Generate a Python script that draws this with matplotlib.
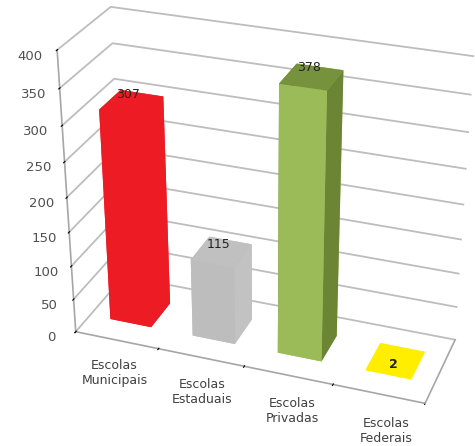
import matplotlib
matplotlib.use("Agg")
import matplotlib.pyplot as plt
import numpy as np

categories = ["Escolas\nMunicipais", "Escolas\nEstaduais", "Escolas\nPrivadas", "Escolas\nFederais"]
values = [307, 115, 378, 2]
labels = ["307", "115", "378", "2"]
z_ticks = [0, 50, 100, 150, 200, 250, 300, 350, 400]
front_colors = ["#ED1C24", "#BDBDBD", "#9BBB59", "#FFEE00"]
top_colors = ["#ED1C24", "#C0C0C0", "#76923C", "#FFEE00"]
side_colors = ["#ED1C24", "#C2C2C2", "#6B8535", "#FFEE00"]

plt.rcParams["font.family"] = ["DejaVu Sans"]
fig = plt.figure(figsize=(4.75, 4.46), dpi=100)
ax = fig.add_axes([-0.038, -0.067, 1.16, 1.2], projection="3d")
ax.set_proj_type("persp", focal_length=0.55)
ax.view_init(elev=28, azim=-70)
ax.set_box_aspect((1.31, 0.42, 1.105), zoom=0.925)
ax.set_xlim(0, 4); ax.set_ylim(0, 1); ax.set_zlim(0, 400)

for a in (ax.xaxis, ax.yaxis, ax.zaxis):
    a.set_pane_color((1, 1, 1, 1))
    a.pane.set_edgecolor("#FFFFFF")
    a.line.set_color("#A6A6A6")
    a.line.set_linewidth(1.2)
    a._axinfo["tick"]["color"] = "#A6A6A6"
ax.xaxis._axinfo["grid"]["linewidth"] = 0
ax.yaxis._axinfo["grid"]["linewidth"] = 0
ax.zaxis._axinfo["grid"].update(color="#BDBDBD", linewidth=1.3)
ax.set_xticks(range(0, 5)); ax.set_xticklabels([])
ax.set_yticks([])
ax.set_zticks(z_ticks)
ax.zaxis.set_ticks_position("lower")
ax.tick_params(axis="z", labelsize=9.5, labelcolor="#505050", pad=5)

bw, bd = 0.5, 0.42
for i, v in enumerate(values):
    x0 = i + (1 - bw) / 2
    y0 = (1 - bd) / 2
    cols = [front_colors[i], top_colors[i], front_colors[i], front_colors[i], side_colors[i], side_colors[i]]
    ax.bar3d(x0, y0, 0, bw, bd, max(v, 0.5), color=cols, shade=False, linewidth=0)
    ax.text(i + 0.5, y0 + bd * 0.35, v + (16 if v > 10 else 0), labels[i], ha="center", va="center",
            fontsize=9, fontweight="bold" if v < 10 else "normal", color="#222222", zorder=20)
    ax.text(i + 0.77, -0.5, 4, categories[i], ha="center", va="center", fontsize=9,
            color="#404040", linespacing=1.2, zorder=20)

fig.savefig("out.png", dpi=100)
